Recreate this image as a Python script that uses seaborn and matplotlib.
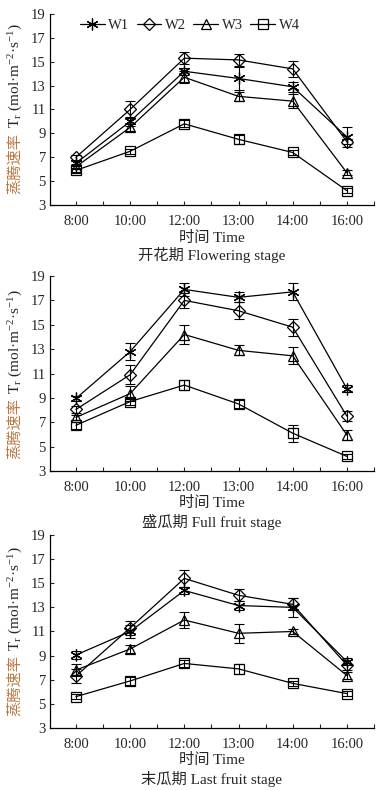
import numpy as np
import pandas as pd
import matplotlib
matplotlib.use("Agg")
import matplotlib.pyplot as plt
import seaborn as sns

times = ["8:00", "10:00", "12:00", "13:00", "14:00", "16:00"]
groups = ["W1", "W2", "W3", "W4"]
stages = ["开花期 Flowering stage", "盛瓜期 Full fruit stage", "末瓜期 Last fruit stage"]

# transpiration rate, one list per treatment and stage
flower_mean = {
    "W1": [6.5, 10.0, 14.2, 13.6, 12.9, 8.7],
    "W2": [7.0, 11.0, 15.3, 15.15, 14.4, 8.3],
    "W3": [6.2, 9.5, 13.7, 12.1, 11.7, 5.7],
    "W4": [5.9, 7.5, 9.8, 8.5, 7.4, 4.2],
}
flower_err = {
    "W1": [0.2, 0.4, 0.3, 1.0, 0.4, 0.8],
    "W2": [0.2, 0.7, 0.5, 0.5, 0.7, 0.2],
    "W3": [0.2, 0.3, 0.5, 0.4, 0.6, 0.2],
    "W4": [0.2, 0.2, 0.3, 0.4, 0.2, 0.2],
}
full_mean = {
    "W1": [8.95, 12.8, 17.9, 17.25, 17.7, 9.75],
    "W2": [8.05, 10.9, 17.0, 16.15, 14.8, 7.5],
    "W3": [7.4, 9.35, 14.2, 12.9, 12.45, 5.95],
    "W4": [6.75, 8.7, 10.05, 8.5, 6.1, 4.2],
}
full_err = {
    "W1": [0.2, 0.7, 0.5, 0.4, 0.7, 0.3],
    "W2": [0.3, 0.8, 0.6, 0.7, 0.7, 0.4],
    "W3": [0.2, 0.6, 0.8, 0.4, 0.7, 0.4],
    "W4": [0.3, 0.3, 0.4, 0.3, 0.7, 0.2],
}
last_mean = {
    "W1": [9.05, 11.0, 14.4, 13.15, 13.0, 8.5],
    "W2": [7.3, 11.3, 15.4, 14.0, 13.25, 8.2],
    "W3": [7.8, 9.55, 11.95, 10.85, 11.0, 7.35],
    "W4": [5.6, 6.9, 8.35, 7.9, 6.7, 5.85],
}
last_err = {
    "W1": [0.3, 0.5, 0.3, 0.4, 0.8, 0.3],
    "W2": [0.6, 0.6, 0.7, 0.5, 0.5, 0.4],
    "W3": [0.5, 0.3, 0.7, 0.8, 0.2, 0.3],
    "W4": [0.2, 0.3, 0.3, 0.4, 0.2, 0.2],
}

sns.set_theme(style="ticks")
plt.rcParams["font.family"] = ["Liberation Serif", "Noto Sans CJK SC"]
plt.rcParams["mathtext.fontset"] = "stix"
plt.rcParams["xtick.direction"] = "in"
plt.rcParams["ytick.direction"] = "in"

markers = {"W1": (6, 2, 0), "W2": "D", "W3": "^", "W4": "s"}
msizes = {"W1": 8.5, "W2": 6, "W3": 7, "W4": 6.5}

fig = plt.figure(figsize=(3.84, 7.9), dpi=100)
boxes = [(0.7405, 0.9823), (0.4038, 0.6506), (0.0785, 0.3228)]
data = [(flower_mean, flower_err), (full_mean, full_err), (last_mean, last_err)]

for i, ((b, t), (means, errs)) in enumerate(zip(boxes, data)):
    ax = fig.add_axes([0.130, b, 0.844, t - b])
    rows = []
    for g in groups:
        for k, tm in enumerate(times):
            rows.append({"pos": k, "Tr": means[g][k], "err": errs[g][k], "group": g})
    df = pd.DataFrame(rows)

    for g in groups:
        sub = df[df["group"] == g]
        ax.errorbar(sub["pos"], sub["Tr"], yerr=sub["err"], fmt="none",
                    ecolor="black", elinewidth=0.8, capsize=3.5, capthick=0.8, zorder=2)
    for g in groups:
        sub = df[df["group"] == g]
        sns.lineplot(data=sub, x="pos", y="Tr", ax=ax, color="black", lw=0.9,
                     marker=markers[g], markersize=msizes[g], mfc="none",
                     mec="black", mew=0.9, legend=False, zorder=3)

    ax.set_xlim(-0.48, 5.5)
    ax.set_ylim(3, 19)
    ax.set_yticks(np.arange(3, 20, 2))
    ax.set_xticks(np.arange(0, 6))
    ax.set_xticklabels(times)
    ax.set_xticks(np.arange(0.5, 6, 1), minor=True)
    ax.tick_params(axis="both", which="both", length=3, width=0.8, labelsize=10.5, pad=3)
    ax.tick_params(axis="x", pad=7)
    for side in ["top", "right"]:
        ax.spines[side].set_visible(False)
    for side in ["left", "bottom"]:
        ax.spines[side].set_linewidth(0.9)
        ax.spines[side].set_color("black")

    ax.set_xlabel("时间 Time", fontsize=11, labelpad=2)
    ax.set_ylabel("")
    ax.text(0.5, -0.262, stages[i], transform=ax.transAxes, ha="center",
            va="center", fontsize=11)

    cn = ax.text(-0.108, 0.06, "蒸腾速率", transform=ax.transAxes, rotation=90,
                 ha="center", va="bottom", fontsize=11, color="#b87a45",
                 family=["Noto Sans CJK SC"])
    ax.annotate(r"T$_\mathregular{r}$ (mol·m$^{\mathregular{-2}}$·s$^{\mathregular{-1}}$)",
                xy=(0.5, 1.0), xycoords=cn, rotation=90, ha="center", va="bottom",
                fontsize=11, xytext=(0, 3), textcoords="offset points")

    if i == 0:
        handles = ax.lines[-4:]
        ax.legend(handles, groups, loc="upper left", bbox_to_anchor=(0.065, 1.02),
                  ncol=4, frameon=False, fontsize=10.5, handlelength=1.7,
                  handletextpad=0.25, columnspacing=0.5, borderaxespad=0.2)

fig.savefig("out.png", dpi=100)
